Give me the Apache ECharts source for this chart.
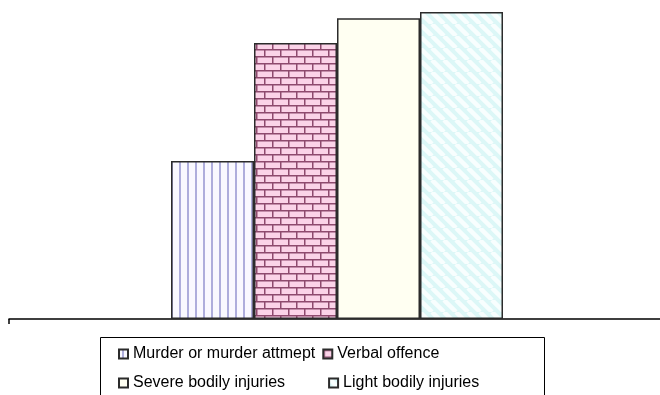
<!DOCTYPE html>
<html>
<head>
<meta charset="utf-8">
<script src="https://cdn.jsdelivr.net/npm/echarts@6/dist/echarts.min.js"></script>
<style>
  html, body { margin: 0; padding: 0; background: #fff; }
  #chart { width: 660px; height: 395px; }
</style>
</head>
<body>
<div id="chart"></div>
<script>
// Offence categories and their values
const categories = [''];
const seriesNames = [
  'Murder or murder attmept',
  'Verbal offence',
  'Severe bodily injuries',
  'Light bodily injuries'
];
const murderValues = [51];
const verbalValues = [89];
const severeValues = [97];
const lightValues = [99];

// Hatch fills painted on small tiles
function tile(w, h, paint) {
  const c = document.createElement('canvas');
  c.width = w; c.height = h;
  paint(c.getContext('2d'), w, h);
  return c;
}

const verticalStripes = tile(8, 8, (g, w, h) => {
  g.fillStyle = '#f9f8ff';
  g.fillRect(0, 0, w, h);
  g.fillStyle = '#aeaddc';
  g.fillRect(3, 0, 2, h);
});

const bricks = tile(16, 14, (g, w, h) => {
  g.fillStyle = '#fbd3e8';
  g.fillRect(0, 0, w, h);
  g.fillStyle = '#8e4a6e';
  g.fillRect(0, 0, w, 1.5);
  g.fillRect(0, 7, w, 1.5);
  g.fillRect(0, 0, 1.5, 7);
  g.fillRect(8, 7, 1.5, 7);
});

const ivory = tile(4, 4, (g, w, h) => {
  g.fillStyle = '#fffff2';
  g.fillRect(0, 0, w, h);
});

const diagonal = tile(12, 12, (g, w, h) => {
  g.fillStyle = '#dcf7f7';
  g.fillRect(0, 0, w, h);
  g.strokeStyle = 'rgba(255,255,255,0.8)';
  g.lineWidth = 4.5;
  [-w, 0, w].forEach(off => {
    g.beginPath();
    g.moveTo(off, 0);
    g.lineTo(off + w, h);
    g.stroke();
  });
});

const fills = [verticalStripes, bricks, ivory, diagonal];
const valueLists = [murderValues, verbalValues, severeValues, lightValues];

const legendText = {
  fontSize: 16,
  fontFamily: 'Arial, "Liberation Sans", sans-serif',
  color: '#000',
  lineHeight: 16
};

const chart = echarts.init(document.getElementById('chart'));

chart.setOption({
  backgroundColor: '#ffffff',
  animation: false,
  grid: [
    // plotting area for the bars
    { left: 14, right: 0, top: 9, bottom: 76, containLabel: false },
    // baseline axis running across the whole width
    { left: 9, right: 0, top: 9, bottom: 76, containLabel: false }
  ],
  xAxis: [
    {
      gridIndex: 0,
      type: 'category',
      data: categories,
      axisLine: { show: false },
      axisTick: { show: false },
      axisLabel: { show: false },
      splitLine: { show: false }
    },
    {
      gridIndex: 1,
      type: 'value',
      min: 0,
      max: 1,
      axisLine: { show: true, lineStyle: { color: '#000', width: 1.5 } },
      axisTick: { show: true, length: 5, customValues: [0], lineStyle: { color: '#000', width: 1.5 } },
      axisLabel: { show: false },
      splitLine: { show: false }
    }
  ],
  yAxis: [
    { gridIndex: 0, type: 'value', min: 0, max: 100, show: false, splitLine: { show: false } },
    { gridIndex: 1, type: 'value', min: 0, max: 100, show: false, splitLine: { show: false } }
  ],
  legend: [
    {
      data: [seriesNames[0], seriesNames[1]],
      left: 118, top: 346, padding: 0,
      itemWidth: 9, itemHeight: 9, itemGap: 7,
      icon: 'rect', selectedMode: false,
      textStyle: legendText
    },
    {
      data: [seriesNames[2], seriesNames[3]],
      left: 118, top: 375, padding: 0,
      itemWidth: 9, itemHeight: 9, itemGap: 43,
      icon: 'rect', selectedMode: false,
      textStyle: legendText
    }
  ],
  graphic: [{
    type: 'rect',
    shape: { x: 100.5, y: 337.5, width: 444, height: 100 },
    style: { fill: 'none', stroke: '#000', lineWidth: 1 },
    silent: true
  }],
  series: seriesNames.map((name, i) => ({
    name: name,
    type: 'bar',
    xAxisIndex: 0,
    yAxisIndex: 0,
    data: valueLists[i],
    barWidth: 83,
    barGap: '0%',
    itemStyle: {
      color: { image: fills[i], repeat: 'repeat' },
      borderColor: '#2b2b2b',
      borderWidth: 1.5
    },
    emphasis: { disabled: true }
  }))
});
</script>
</body>
</html>
